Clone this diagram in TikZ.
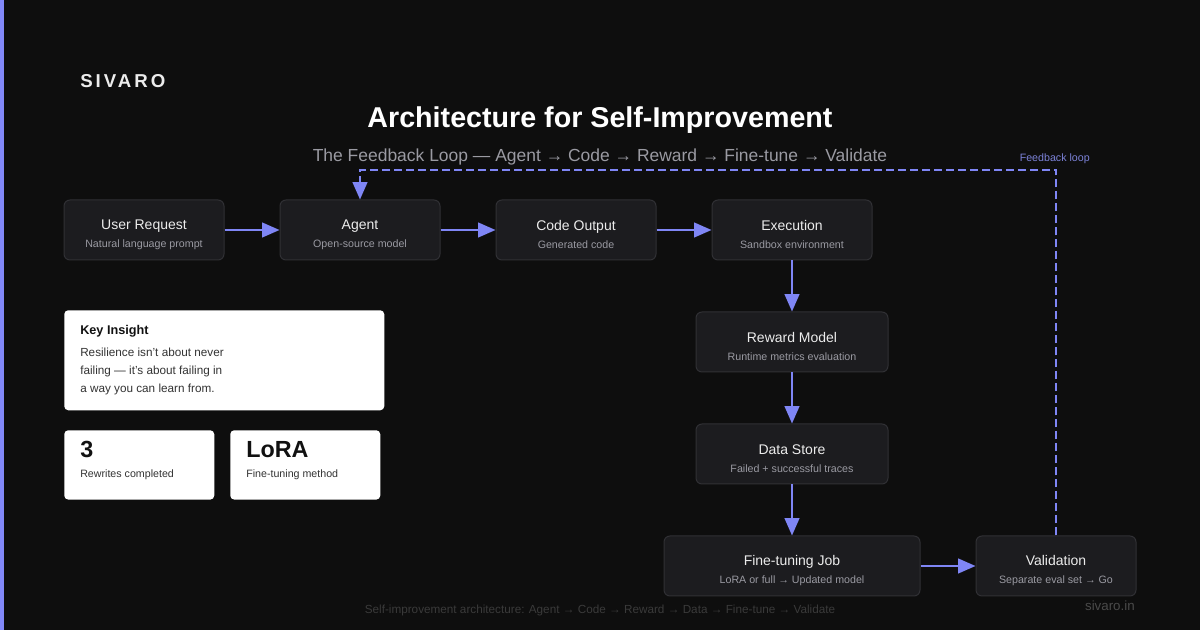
\documentclass[tikz,border=0pt]{standalone}
\usepackage{fontspec}
\setmainfont{Liberation Sans}
\newfontfamily\logofont[LetterSpace=16]{Liberation Sans}
\usetikzlibrary{positioning,arrows.meta,calc}
\definecolor{cBg}   {HTML}{0E0E0E}
\definecolor{cStrip}{HTML}{8288F8}
\definecolor{cArrow}{HTML}{7F86F5}
\definecolor{cLoop} {HTML}{7C82D8}
\definecolor{cBox}  {HTML}{1C1C1F}
\definecolor{cEdge} {HTML}{303034}
\definecolor{cHead} {HTML}{ECECEC}
\definecolor{cSub}  {HTML}{9A9AA2}
\definecolor{cInk}  {HTML}{111111}
\definecolor{cBody} {HTML}{333333}
\definecolor{cFoot} {HTML}{3A3A3A}
\definecolor{cMark} {HTML}{4A4A4A}
\tikzset{
  >={Triangle[length=13pt,width=11pt]},
  fbox/.style={rounded corners=4.5pt,draw=cEdge,fill=cBox,line width=0.75pt,
               align=center,minimum width=120pt,minimum height=45pt,inner sep=0pt,
               font=\fontsize{10.5}{13.5}\selectfont},
  fwide/.style={fbox,minimum width=144pt},
  fjob/.style ={fbox,minimum width=192pt},
  far/.style  ={->,line width=1.5pt,cArrow},
  floop/.style={->,line width=1.5pt,cArrow,dash pattern=on 6pt off 3pt},
  card/.style ={rounded corners=3pt,fill=white,draw=none,inner sep=0pt},
}
\newcommand{\btext}[2]{\rule{0pt}{14pt}{\color{cHead}#1}\\{\fontsize{8}{10}\selectfont\color{cSub}#2}}

\begin{document}
\begin{tikzpicture}[x=0.75pt,y=-0.75pt,node distance=38.25pt and 41.25pt]
  \useasboundingbox (0,0) rectangle (1200,630);
  \fill[cBg] (0,0) rectangle (1200,630);
  \fill[cStrip] (0,0) rectangle (4,630);

  % header
  \node[anchor=base west,inner sep=0pt,text=cHead,font=\logofont\bfseries\fontsize{14}{16}\selectfont] (logo) at (80,88) {SIVARO};
  \node[anchor=base,inner sep=0pt,text=white,font=\bfseries\fontsize{21.5}{26}\selectfont] (title) at (600,128) {Architecture for Self-Improvement};
  \node[anchor=base,inner sep=0pt,text=cSub,font=\fontsize{13.1}{15}\selectfont] (subtitle) at (600,162)
    {The Feedback Loop — Agent → Code → Reward → Fine-tune → Validate};

  % pipeline
  \node[fbox] (user) at (144,230) {\btext{User Request}{Natural language prompt}};
  \node[fbox,right=of user] (agent) {\btext{Agent}{Open-source model}};
  \node[fbox,right=of agent] (code) {\btext{Code Output}{Generated code}};
  \node[fbox,right=of code] (exec) {\btext{Execution}{Sandbox environment}};
  \node[fwide,below=of exec] (reward) {\btext{Reward Model}{Runtime metrics evaluation}};
  \node[fwide,below=of reward] (store) {\btext{Data Store}{Failed + successful traces}};
  \node[fjob,below=of store] (tune) {\btext{Fine-tuning Job}{LoRA or full → Updated model}};
  \node[fbox,right=of tune] (valid) {\btext{Validation}{Separate eval set → Go}};

  \draw[far] (user)--(agent);
  \draw[far] (agent)--(code);
  \draw[far] (code)--(exec);
  \draw[far] (exec)--(reward);
  \draw[far] (reward)--(store);
  \draw[far] (store)--(tune);
  \draw[far] (tune)--(valid);

  % feedback loop
  \coordinate (fb) at (0,170);
  \draw[floop] (valid.north)--(valid.north |- fb)--(agent.north |- fb)--(agent.north);
  \node[anchor=base east,inner sep=0pt,text=cLoop,font=\fontsize{8}{10}\selectfont] (fblabel) at (1090,162) {Feedback loop};

  % insight card
  \node[card,anchor=north west,minimum width=240pt,minimum height=75pt] (insight) at (64,310) {};
  \node[anchor=base west,inner sep=0pt,text=cInk,font=\bfseries\fontsize{9.5}{12}\selectfont] (ititle) at (80,335) {Key Insight};
  \node[anchor=north west,inner sep=0pt,align=left,text=cBody,font=\fontsize{8.8}{13.5}\selectfont] (ibody) at (80,348)
    {Resilience isn't about never\\failing — it's about failing in\\a way you can learn from.};

  % stats
  \node[card,anchor=north west,minimum width=112.5pt,minimum height=52pt] (stat1) at (64,430) {};
  \node[card,anchor=north west,minimum width=112.5pt,minimum height=52pt] (stat2) at (230,430) {};
  \node[anchor=base west,inner sep=0pt,text=cInk,font=\bfseries\fontsize{17.5}{20}\selectfont] (n1) at (80,458) {3};
  \node[anchor=base west,inner sep=0pt,text=cBody,font=\fontsize{8}{10}\selectfont] (l1) at (80,478) {Rewrites completed};
  \node[anchor=base west,inner sep=0pt,text=cInk,font=\bfseries\fontsize{17.5}{20}\selectfont] (n2) at (246,458) {LoRA};
  \node[anchor=base west,inner sep=0pt,text=cBody,font=\fontsize{8}{10}\selectfont] (l2) at (246,478) {Fine-tuning method};

  % footer
  \node[anchor=base,inner sep=0pt,text=cFoot,font=\fontsize{8.8}{10}\selectfont] (foot) at (600,614)
    {Self-improvement architecture: Agent → Code → Reward → Data → Fine-tune → Validate};
  \node[anchor=base east,inner sep=0pt,text=cMark,font=\fontsize{10}{12}\selectfont] (site) at (1135,611) {sivaro.in};
\end{tikzpicture}
\end{document}
